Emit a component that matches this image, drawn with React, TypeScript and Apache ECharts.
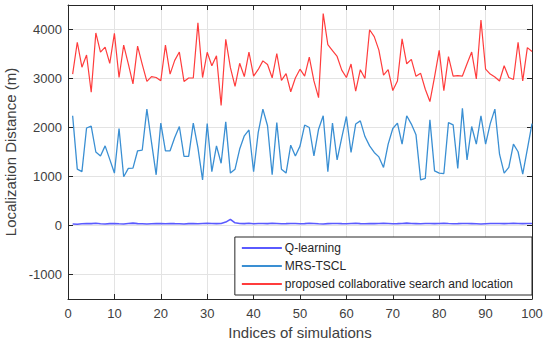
import React, { useEffect, useRef } from "react";
import * as echarts from "echarts";

const simIndices: number[] = Array.from({ length: 100 }, (_, i) => i + 1);

const qLearning: number[] = [
  30, 25, 35, 40, 38, 45, 35, 30, 38, 42, 35, 30, 40, 48, 38, 35, 32, 36, 40, 38,
  35, 42, 38, 35, 30, 38, 40, 36, 42, 45, 40, 38, 42, 70, 125, 55, 40, 38, 45, 35,
  40, 42, 38, 45, 40, 35, 38, 42, 40, 36, 38, 45, 40, 35, 32, 38, 40, 42, 38, 35,
  40, 45, 38, 35, 40, 38, 42, 45, 40, 35, 38, 42, 48, 40, 38, 35, 40, 42, 38, 40,
  45, 40, 36, 38, 42, 40, 38, 35, 30, 35, 40, 42, 40, 38, 42, 45, 40, 38, 40, 42,
];

const mrsTscl: number[] = [
  2240, 1150, 1100, 1990, 2030, 1500, 1420, 1625, 1350, 1070,
  1980, 995, 1165, 1170, 1525, 1540, 2375, 1695, 1035, 2090,
  1525, 1525, 1795, 2020, 1410, 1410, 2090, 1590, 930, 2080,
  1100, 1625, 1270, 2115, 1070, 1150, 1560, 1830, 1950, 1100,
  1900, 2375, 2035, 1035, 2100, 1150, 1070, 1640, 1420, 1620,
  2050, 2000, 1420, 1965, 2240, 1100, 2090, 1340, 1795, 2225,
  1490, 2070, 2135, 1815, 1625, 1490, 1400, 1185, 1660, 1980,
  2090, 1660, 2240, 2070, 1850, 930, 960, 2155, 1115, 1070,
  1060, 2100, 2055, 1165, 2390, 1340, 2020, 1660, 2240, 1660,
  2080, 2375, 1455, 1070, 1185, 1660, 1505, 1050, 1560, 2080,
];

const proposed: number[] = [
  3090, 3740, 3230, 3480, 2720, 3930, 3540, 3640, 3310, 3920,
  3020, 3680, 3300, 2890, 3660, 3290, 2940, 3040, 3020, 2955,
  3680, 3090, 3370, 3540, 2940, 3010, 3010, 4135, 3020, 3535,
  3260, 3465, 2450, 3800, 3220, 2840, 3310, 3040, 3540, 3050,
  3185, 3360, 3285, 3015, 3510, 2960, 3100, 2730, 3010, 3190,
  3050, 3435, 2950, 2610, 4325, 3690, 3570, 3450, 3170, 3020,
  3295, 2740, 3180, 3000, 3995, 3855, 3580, 3070, 3180, 2755,
  2950, 3810, 3300, 3390, 3045, 3105, 2780, 2530, 3035, 3575,
  2750, 3445, 3050, 3060, 3050, 3300, 3540, 2990, 4195, 3190,
  3090, 3030, 2950, 3260, 3020, 2980, 3740, 2950, 3630, 3550,
];

const yTicks: number[] = [-1000, 0, 1000, 2000, 3000, 4000];
const xTicks: number[] = [0, 10, 20, 30, 40, 50, 60, 70, 80, 90, 100];

const seriesNames: string[] = [
  "Q-learning",
  "MRS-TSCL",
  "proposed collaborative search and location",
];

const FONT = "'Liberation Sans', Arial, Helvetica, sans-serif";
const AXIS = "#262626";
const LABEL = "#404040";
const GRID = "#e3e3e3";

export default function App() {
  const ref = useRef<HTMLDivElement>(null);
  useEffect(() => {
    if (!ref.current) return;
    const chart = echarts.init(ref.current, undefined, { renderer: "svg" });
    const pair = (arr: number[]) => arr.map((v, i) => [simIndices[i], v]);
    const common = {
      min: xTicks[0],
      max: xTicks[xTicks.length - 1],
      interval: 10,
      type: "value" as const,
    };
    const plain = (v: number) => String(v);
    chart.setOption({
      animation: false,
      backgroundColor: "#ffffff",
      textStyle: { fontFamily: FONT },
      grid: { left: 68, right: 11, top: 5, bottom: 46, containLabel: false, outerBoundsMode: "none" },
      xAxis: [
        {
          ...common,
          position: "bottom",
          name: "Indices of simulations",
          nameLocation: "middle",
          nameGap: 25,
          nameTextStyle: { fontSize: 15, color: LABEL, fontFamily: FONT },
          axisLine: { show: true, onZero: false, lineStyle: { color: AXIS, width: 1 } },
          axisTick: { show: true, inside: true, length: 5, lineStyle: { color: AXIS } },
          axisLabel: { fontSize: 13, color: LABEL, margin: 8, fontFamily: FONT, formatter: plain },
          splitLine: { show: true, lineStyle: { color: GRID, width: 1 } },
        },
        {
          ...common,
          position: "top",
          axisLine: { show: true, onZero: false, lineStyle: { color: AXIS, width: 1 } },
          axisTick: { show: true, inside: true, length: 5, lineStyle: { color: AXIS } },
          axisLabel: { show: false },
          splitLine: { show: false },
        },
      ],
      yAxis: [
        {
          type: "value",
          min: -1500,
          max: 4500,
          position: "left",
          name: "Localization Distance (m)",
          nameLocation: "middle",
          nameGap: 44,
          nameTextStyle: { fontSize: 15, color: LABEL, fontFamily: FONT },
          axisLine: { show: true, onZero: false, lineStyle: { color: AXIS, width: 1 } },
          axisTick: { show: true, inside: true, length: 5, customValues: yTicks, lineStyle: { color: AXIS } },
          axisLabel: { fontSize: 13, color: LABEL, margin: 6, customValues: yTicks, fontFamily: FONT, formatter: plain },
          splitLine: { show: true, lineStyle: { color: GRID, width: 1 } },
        },
        {
          type: "value",
          min: -1500,
          max: 4500,
          position: "right",
          axisLine: { show: true, onZero: false, lineStyle: { color: AXIS, width: 1 } },
          axisTick: { show: true, inside: true, length: 5, customValues: yTicks, lineStyle: { color: AXIS } },
          axisLabel: { show: false, customValues: yTicks },
          splitLine: { show: false },
        },
      ],
      legend: {
        orient: "vertical",
        right: 11,
        bottom: 50,
        backgroundColor: "#ffffff",
        borderColor: AXIS,
        borderWidth: 1,
        borderRadius: 0,
        padding: [5, 19, 5, 6],
        itemWidth: 40,
        itemHeight: 14,
        itemGap: 6,
        itemStyle: { opacity: 0 },
        textStyle: { fontSize: 12, color: AXIS, fontFamily: FONT, padding: [0, 0, 0, -2] },
        data: seriesNames,
      },
      series: [
        {
          name: seriesNames[0],
          type: "line",
          data: pair(qLearning),
          symbol: "none",
          lineStyle: { color: "#5a5aff", width: 1.6 },
          itemStyle: { color: "#5a5aff" },
          z: 3,
        },
        {
          name: seriesNames[1],
          type: "line",
          data: pair(mrsTscl),
          symbol: "none",
          lineStyle: { color: "#3a8fd3", width: 1.3 },
          itemStyle: { color: "#3a8fd3" },
          z: 2,
        },
        {
          name: seriesNames[2],
          type: "line",
          data: pair(proposed),
          symbol: "none",
          lineStyle: { color: "#ff3c3c", width: 1.2 },
          itemStyle: { color: "#ff3c3c" },
          z: 1,
        },
      ],
    });
    return () => chart.dispose();
  }, []);
  return (
    <div
      ref={ref}
      style={{ position: "fixed", left: 0, top: 0, width: 543, height: 345, background: "#fff" }}
    />
  );
}
